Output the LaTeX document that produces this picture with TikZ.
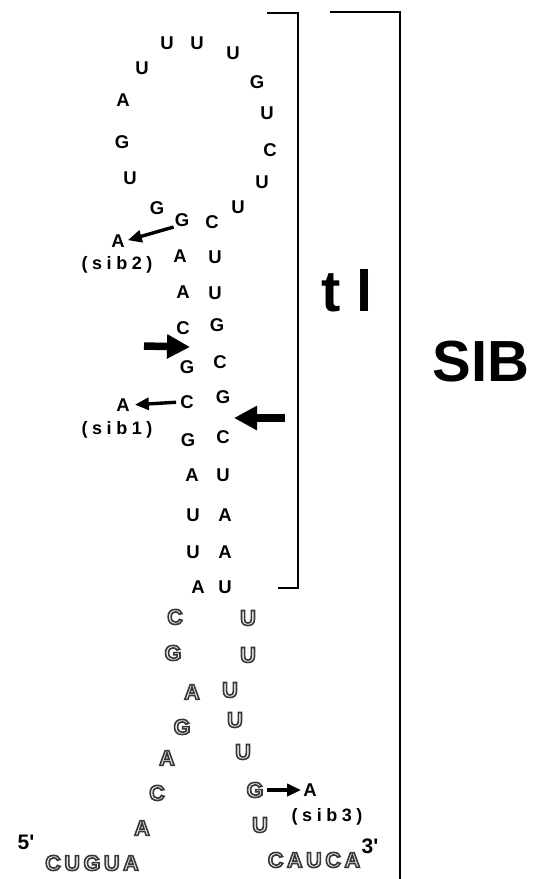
\documentclass[tikz,border=0pt]{standalone}
\usepackage{fontspec}
\setmainfont{Liberation Sans}
\usetikzlibrary{arrows.meta}
\newcommand{\hol}[1]{\special{pdf:literal direct 2 Tr 1.6 w 0.22 G 0.93 g}#1\special{pdf:literal direct 0 Tr 0.3985 w 0 G 0 g}}
\tikzset{
  nt/.style={font=\fontsize{18.5}{18}\selectfont\bfseries, inner sep=0pt},
  ho/.style={font=\fontsize{21.5}{22}\selectfont\bfseries, inner sep=0pt},
  hos/.style={font=\fontsize{21.5}{22}\selectfont\bfseries\addfontfeatures{LetterSpace=17}, inner sep=0pt},
  lab/.style={font=\fontsize{18}{18}\selectfont\bfseries\addfontfeatures{LetterSpace=25}, inner sep=0pt},
  big/.style={font=\fontsize{58}{58}\selectfont\bfseries, inner sep=0pt},
  brk/.style={line width=2.6pt},
  sarr/.style={line width=3.4pt, -{Triangle[length=14pt,width=12pt]}},
  barr/.style={line width=7.5pt, -{Triangle[length=23pt,width=23pt]}}
}
\begin{document}
\begin{tikzpicture}[x=1pt,y=-1pt]
\useasboundingbox[fill=white] (0,0) rectangle (536,879);
% loop
\node[nt] (l1) at (157,208) {G};
\node[nt] (l2) at (130,178) {U};
\node[nt] (l3) at (122,142) {G};
\node[nt] (l4) at (123,100) {A};
\node[nt] (l5) at (142,68) {U};
\node[nt] (l6) at (167,43) {U};
\node[nt] (l7) at (197,43) {U};
\node[nt] (l8) at (233,53) {U};
\node[nt] (l9) at (257,82) {G};
\node[nt] (l10) at (267,113) {U};
\node[nt] (l11) at (270,150) {C};
\node[nt] (l12) at (262,182) {U};
\node[nt] (l13) at (238,207) {U};
% stem left (5' side)
\node[nt] (a1) at (182,220) {G};
\node[nt] (a2) at (180,256) {A};
\node[nt] (a3) at (183,292) {A};
\node[nt] (a4) at (183,328) {C};
\node[nt] (a5) at (187,367) {G};
\node[nt] (a6) at (187,402) {C};
\node[nt] (a7) at (188,440) {G};
\node[nt] (a8) at (192,475) {A};
\node[nt] (a9) at (193,515) {U};
\node[nt] (a10) at (193,552) {U};
\node[nt] (a11) at (198,587) {A};
% stem right
\node[nt] (b1) at (212,222) {C};
\node[nt] (b2) at (215,257) {U};
\node[nt] (b3) at (215,293) {U};
\node[nt] (b4) at (217,325) {G};
\node[nt] (b5) at (220,362) {C};
\node[nt] (b6) at (223,397) {G};
\node[nt] (b7) at (223,437) {C};
\node[nt] (b8) at (223,475) {U};
\node[nt] (b9) at (225,515) {A};
\node[nt] (b10) at (225,552) {A};
\node[nt] (b11) at (225,587) {U};
% hollow left
\node[ho] (c1) at (175,617) {\hol{C}};
\node[ho] (c2) at (173,653) {\hol{G}};
\node[ho] (c3) at (192,692) {\hol{A}};
\node[ho] (c4) at (182,727) {\hol{G}};
\node[ho] (c5) at (167,758) {\hol{A}};
\node[ho] (c6) at (157,793) {\hol{C}};
\node[ho] (c7) at (142,828) {\hol{A}};
\node[hos] (c8) at (92,863) {\hol{CUGUA}};
% hollow right
\node[ho] (d1) at (248,618) {\hol{U}};
\node[ho] (d2) at (248,655) {\hol{U}};
\node[ho] (d3) at (230,690) {\hol{U}};
\node[ho] (d4) at (235,720) {\hol{U}};
\node[ho] (d5) at (243,752) {\hol{U}};
\node[ho] (d6) at (255,790) {\hol{G}};
\node[ho] (d7) at (260,825) {\hol{U}};
\node[hos] (d8) at (314,860) {\hol{CAUCA}};
% ends
\node[nt, font=\fontsize{21}{21}\selectfont\bfseries] (five) at (26,842) {5\textquotesingle};
\node[nt, font=\fontsize{21}{21}\selectfont\bfseries] (three) at (370,846) {3\textquotesingle};
% mutations
\node[nt] (s2a) at (118,241) {A};
\node[lab] (s2l) at (117,265) {(sib2)};
\node[nt] (s1a) at (123,405) {A};
\node[lab] (s1l) at (117,430) {(sib1)};
\node[nt] (s3a) at (310,790) {A};
\node[lab] (s3l) at (327,817) {(sib3)};
\draw[sarr, shorten <=1pt, shorten >=3pt] (a1.south west) -- (s2a.east);
\draw[sarr, shorten <=4pt, shorten >=5pt] (a6.west) -- (s1a.east);
\draw[sarr, shorten <=3pt, shorten >=2pt] (d6.east) -- (s3a.west);
% big arrows
\coordinate (p1) at (144,346);
\coordinate (p2) at (190,347);
\coordinate (q1) at (285,418);
\coordinate (q2) at (234,418);
\draw[barr] (p1) -- (p2);
\draw[barr] (q1) -- (q2);
% brackets
\node[big] (tl) at (347,291) {t l};
\node[big] (sib) at (481,362) {SIB};
\coordinate (t1) at (267,13);
\coordinate (t2) at (298,13);
\coordinate (t3) at (298,588);
\coordinate (t4) at (278,588);
\draw[brk] (t1) -- (t2) -- (t3) -- (t4);
\coordinate (u1) at (330,12);
\coordinate (u2) at (400,12);
\coordinate (u3) at (400,879);
\draw[brk] (u1) -- (u2) -- (u3);
\end{tikzpicture}
\end{document}
